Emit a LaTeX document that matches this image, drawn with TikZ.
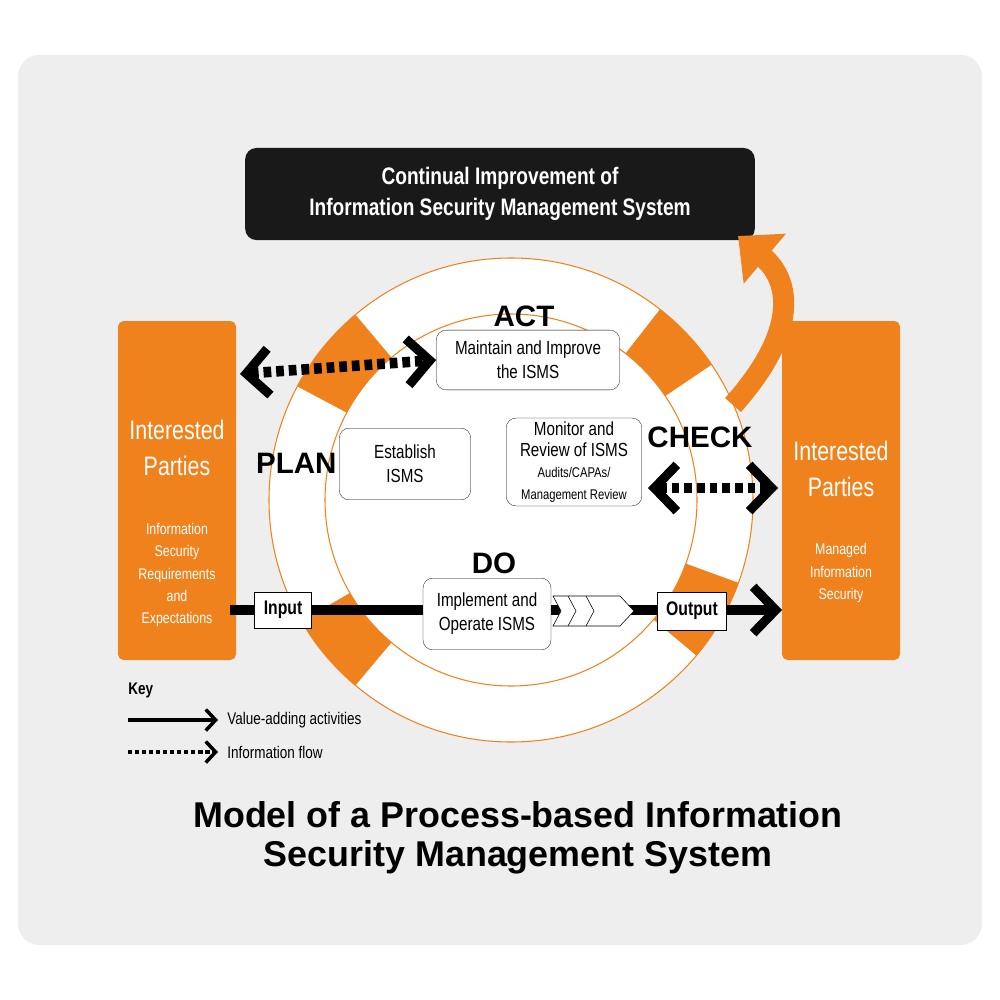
\documentclass[tikz,border=0pt]{standalone}
\usepackage{fontspec}
\setmainfont{Liberation Sans}
\newfontfamily\narrow[FakeStretch=0.8]{Liberation Sans}
\usetikzlibrary{calc,arrows.meta}
\definecolor{isoorange}{RGB}{240,130,30}
\definecolor{bgray}{RGB}{238,238,238}
\tikzset{
  box/.style = {draw=black, fill=white, rounded corners=14pt, align=center,
    inner sep=0pt, font=\narrow\fontsize{27}{34}\selectfont},
  party/.style = {fill=isoorange, rounded corners=8pt},
  phase/.style = {font=\bfseries\fontsize{42}{42}\selectfont},
  flow/.style = {line width=15pt, -{Straight Barb[length=32pt,width=66pt,line width=13pt]}},
  info/.style = {flow, dash pattern=on 11pt off 7pt},
  tag/.style = {draw=black, fill=white, line width=1pt, font=\narrow\bfseries\fontsize{28}{30}\selectfont}
}
\begin{document}
\begin{tikzpicture}[x=0.5mm,y=-0.5mm]
  \useasboundingbox (0,0) rectangle (1000,1000);
  \fill[bgray, rounded corners=30pt] (18,55) rectangle (982,945);
  % ring
  \coordinate (c) at (511,500);
  \draw[isoorange, line width=1.5pt, fill=white] (c) circle (242);
  \foreach \a/\b in {130/152, 34/52, -20/-40, -130/-150}
    \fill[isoorange] ($(c)+({-\a}:242)$) arc[start angle=-\a, end angle=-\b, radius=242]
      -- ($(c)+({-\b}:186)$) arc[start angle=-\b, end angle=-\a, radius=186] -- cycle;
  \draw[isoorange, line width=1.5pt, fill=white] (c) circle (186);
  % top box
  \node[fill=black!90, rounded corners=16pt, minimum width=725pt, minimum height=131pt,
    text=white, align=center, font=\narrow\bfseries\fontsize{34}{44}\selectfont]
    (improve) at (500,194) {Continual Improvement of\\Information Security Management System};
  % interested parties
  \fill[party] (118,321) rectangle (236,660);
  \fill[party] (782,321) rectangle (900,660);
  \node[text=white, align=center, font=\narrow\fontsize{38}{50}\selectfont] (ipin) at (177,448) {Interested\\Parties};
  \node[text=white, align=center, font=\narrow\fontsize{22}{32}\selectfont] (req) at (177,575)
    {Information\\Security\\Requirements\\and\\Expectations};
  \node[text=white, align=center, font=\narrow\fontsize{38}{50}\selectfont] (ipout) at (841,469) {Interested\\Parties};
  \node[text=white, align=center, font=\narrow\fontsize{22}{32}\selectfont] (mis) at (841,573)
    {Managed\\Information\\Security};
  % process boxes
  \node[box, minimum width=261pt, minimum height=85pt] (act) at (528,360) {Maintain and Improve\\the ISMS};
  \node[box, minimum width=187pt, minimum height=102pt] (plan) at (405,464) {Establish\\ISMS};
  \node[box, minimum width=193pt, minimum height=125pt, font=\narrow\fontsize{27}{30}\selectfont] (check) at (574,462)
    {Monitor and\\Review of ISMS\\{\fontsize{20}{23}\selectfont Audits/CAPAs/}\\{\fontsize{20}{23}\selectfont Management Review}};
  \node[phase] (actl) at (524,316) {ACT};
  \node[phase, anchor=east] (planl) at (339,463) {PLAN};
  \node[phase, anchor=west] (checkl) at (645,437) {CHECK};
  \node[phase] (dol) at (494,563) {DO};
  % flows
  \coordinate (inl) at (230,610);
  \coordinate (outr) at (782,610);
  \draw[flow] (inl) -- (outr);
  \draw[info, {Straight Barb[length=32pt,width=66pt,line width=13pt]}-{Straight Barb[length=32pt,width=66pt,line width=13pt]}]
    (240,374) -- (act.west);
  \draw[info, {Straight Barb[length=32pt,width=66pt,line width=13pt]}-{Straight Barb[length=32pt,width=66pt,line width=13pt]}]
    (648,488) -- (778,488);
  \node[box, minimum width=182pt, minimum height=102pt] (do) at (487,614) {Implement and\\Operate ISMS};
  \draw[fill=white, line width=0.8pt] (553,596) -- (620,596) -- (634,611) -- (620,626) -- (553,626) -- (561,611) -- cycle;
  \draw[line width=0.8pt] (568,596) -- (576,611) -- (568,626) (586,596) -- (594,611) -- (586,626);
  \node[tag, minimum width=82pt, minimum height=51pt] (input) at (283,610) {Input};
  \node[tag, minimum width=99pt, minimum height=54pt] (output) at (692,611) {Output};
  % improvement arrow
  \coordinate (ringtop) at (733,405);
  \coordinate (tip) at (738,236);
  \draw[isoorange, line width=30pt, -{Triangle[length=50pt,width=90pt]}]
    (ringtop) .. controls (800,330) and (790,280) .. (tip);
  % key
  \node[font=\narrow\bfseries\fontsize{24}{24}\selectfont, anchor=west] (key) at (126,690) {Key};
  \coordinate (k1) at (128,720);
  \coordinate (k2) at (218,720);
  \coordinate (k3) at (128,752);
  \coordinate (k4) at (218,752);
  \draw[line width=7pt, -{Straight Barb[length=14pt,width=30pt,line width=5pt]}] (k1) -- (k2);
  \draw[line width=7pt, dash pattern=on 6pt off 4pt, -{Straight Barb[length=14pt,width=30pt,line width=5pt]}] (k3) -- (k4);
  \node[font=\narrow\fontsize{24}{24}\selectfont, anchor=west] (kva) at (225,720) {Value-adding activities};
  \node[font=\narrow\fontsize{24}{24}\selectfont, anchor=west] (kif) at (225,752) {Information flow};
  % title
  \node[font=\bfseries\fontsize{51}{56}\selectfont, align=center] (title) at (518,838)
    {Model of a Process-based Information\\Security Management System};
\end{tikzpicture}
\end{document}
